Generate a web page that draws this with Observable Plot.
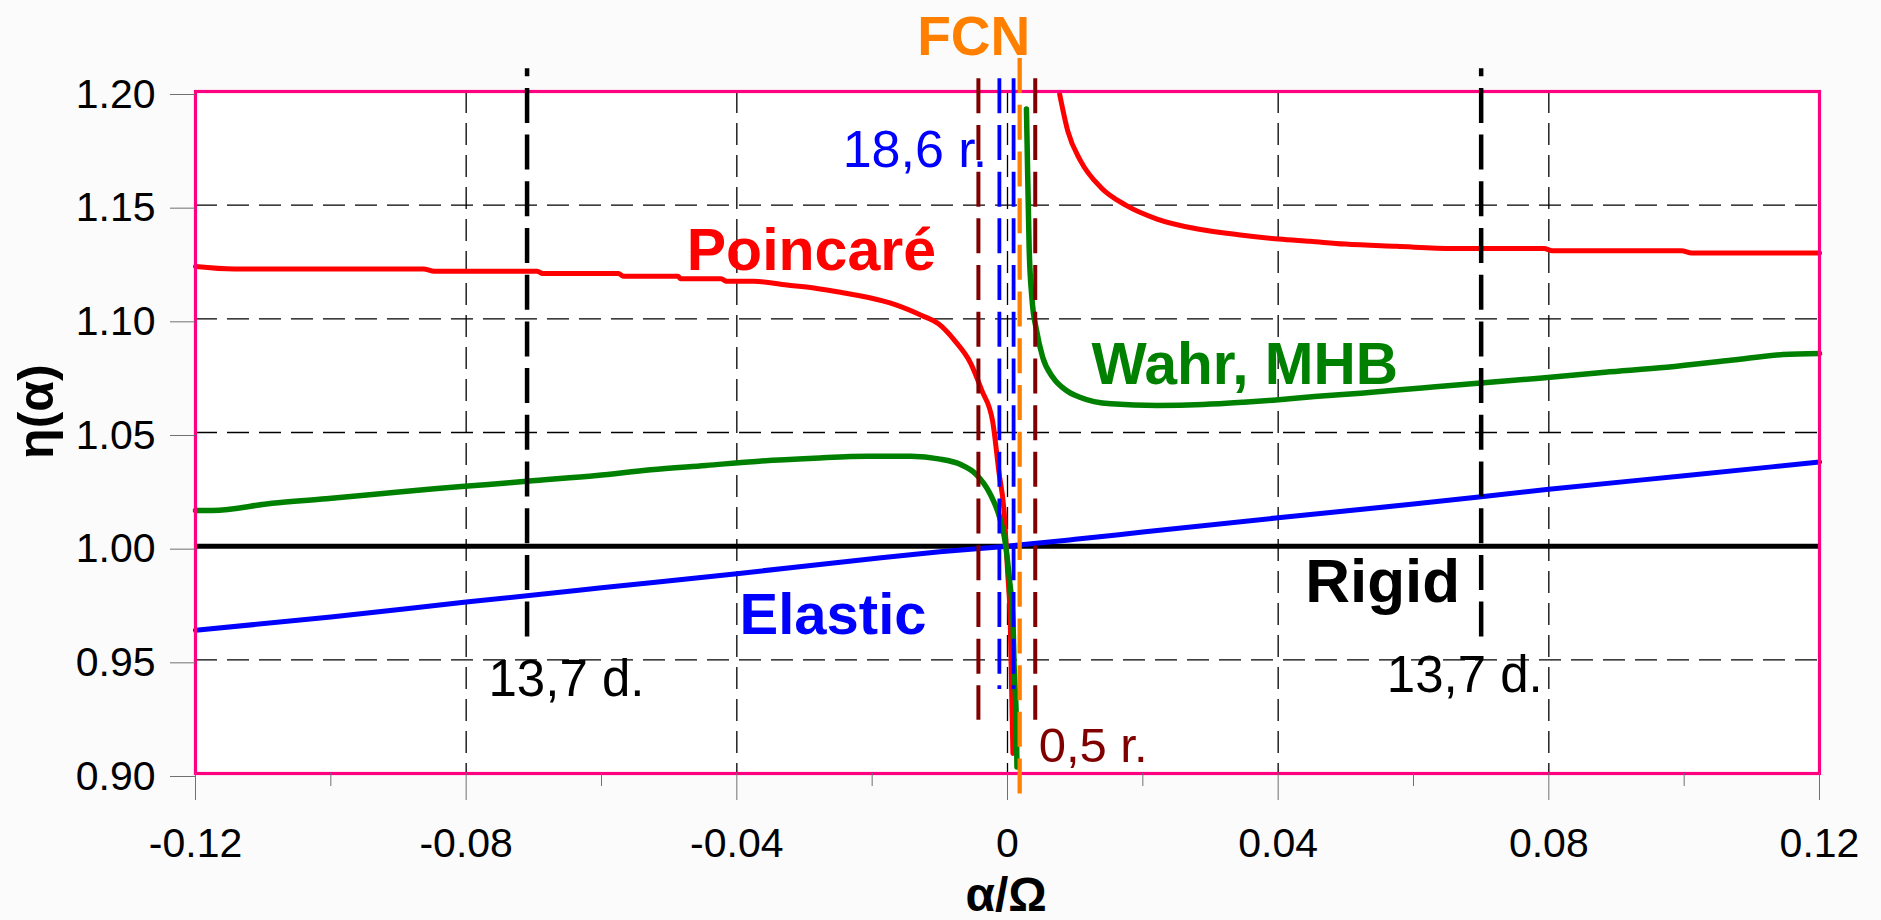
<!DOCTYPE html>
<html>
<head>
<meta charset="utf-8">
<script src="https://cdn.jsdelivr.net/npm/d3@7"></script>
<script src="https://cdn.jsdelivr.net/npm/@observablehq/plot@0.6"></script>
<style>
  html, body { margin: 0; padding: 0; background: #fbfbfb; overflow: hidden; }
  #chart svg { display: block; }
</style>
</head>
<body>
<div id="chart"></div>
<script>
// ---------- data ----------
const xMajorTicks = [-0.12, -0.08, -0.04, 0, 0.04, 0.08, 0.12];
const xMinorTicks = [-0.10, -0.06, -0.02, 0.02, 0.06, 0.10];
const xGrid = [-0.08, -0.04, 0, 0.04, 0.08];
const yTicks = [0.90, 0.95, 1.00, 1.05, 1.10, 1.15, 1.20];
const yGrid = [0.95, 1.05, 1.10, 1.15];
const rigidValue = [1.0];

// Poincaré (red), branch left of FCN
const poincareLeftX = [-0.12, -0.1143, -0.0863, -0.0847, -0.0695, -0.0687, -0.0575, -0.0567, -0.0487, -0.0483, -0.0423, -0.0415, -0.0375, -0.0326, -0.0286, -0.0247, -0.0207, -0.0166, -0.0126, -0.0102, -0.0078, -0.0054, -0.0038, -0.0022, -0.0013, -0.0004, 0.0000, 0.0004, 0.0006, 0.0008];
const poincareLeftY = [1.1230, 1.1219, 1.1219, 1.1209, 1.1209, 1.1199, 1.1199, 1.1187, 1.1187, 1.1176, 1.1176, 1.1165, 1.1165, 1.1149, 1.1136, 1.1117, 1.1095, 1.1063, 1.1014, 1.0978, 1.0904, 1.0802, 1.0685, 1.0550, 1.0333, 1.0113, 0.9893, 0.9674, 0.9381, 0.9088];
// Poincaré (red), branch right of FCN
const poincareRightX = [0.0077, 0.0089, 0.0108, 0.0138, 0.0176, 0.0221, 0.0281, 0.0341, 0.0401, 0.0447, 0.0499, 0.0575, 0.0658, 0.0793, 0.0805, 0.0996, 0.1011, 0.12];
const poincareRightY = [1.1989, 1.1827, 1.1695, 1.1578, 1.1498, 1.1439, 1.1395, 1.1370, 1.1351, 1.1341, 1.1329, 1.1319, 1.1309, 1.1309, 1.1300, 1.1300, 1.1290, 1.1290];

// Wahr, MHB (green)
const wahrLeftX = [-0.12, -0.1175, -0.1087, -0.1007, -0.0927, -0.0847, -0.0767, -0.0711, -0.0607, -0.0527, -0.0446, -0.0367, -0.0286, -0.0207, -0.0142, -0.0102, -0.0070, -0.0046, -0.0026, -0.0012, -0.0004, 0.0003, 0.0008, 0.0010, 0.0013, 0.0014];
const wahrLeftY = [1.0157, 1.0157, 1.0189, 1.0209, 1.0231, 1.0253, 1.0271, 1.0286, 1.0311, 1.0336, 1.0355, 1.0374, 1.0387, 1.0396, 1.0395, 1.0384, 1.0360, 1.0315, 1.0232, 1.0130, 1.0030, 0.9850, 0.9674, 0.9454, 0.9234, 0.9029];
const wahrRightX = [0.0028, 0.0030, 0.0032, 0.0036, 0.0043, 0.0052, 0.0067, 0.0087, 0.0107, 0.0153, 0.0221, 0.0289, 0.0349, 0.0401, 0.0454, 0.0522, 0.0612, 0.0695, 0.0786, 0.0883, 0.0974, 0.1072, 0.1146, 0.12];
const wahrRightY = [1.1923, 1.1608, 1.1314, 1.1095, 1.0948, 1.0831, 1.0743, 1.0685, 1.0655, 1.0626, 1.0619, 1.0623, 1.0633, 1.0644, 1.0658, 1.0673, 1.0696, 1.0717, 1.0739, 1.0765, 1.0787, 1.0819, 1.0843, 1.0848];

// Elastic (blue)
const elasticX = [-0.12, -0.10, -0.08, -0.06, -0.04, -0.02, -0.01, 0, 0.01, 0.02, 0.04, 0.06, 0.08, 0.10, 0.12];
const elasticY = [0.9630, 0.9688, 0.9754, 0.9817, 0.9879, 0.9945, 0.9975, 1.0000, 1.0030, 1.0062, 1.0125, 1.0185, 1.0250, 1.0310, 1.0370];

// marker frequencies
const period13dX = [-0.071, 0.070];     // 13,7 d.
const period05rX = [-0.0043, 0.0041];   // 0,5 r.
const period186rX = [-0.0012, 0.0009];  // 18,6 r.
const fcnX = [0.0018];                  // FCN

// ---------- build tables ----------
const toRows = (xs, ys) => xs.map((x, i) => ({x, y: ys[i]}));
const poincareLeft = toRows(poincareLeftX, poincareLeftY);
const poincareRight = toRows(poincareRightX, poincareRightY);
const wahrLeft = toRows(wahrLeftX, wahrLeftY);
const wahrRight = toRows(wahrRightX, wahrRightY);
const elastic = toRows(elasticX, elasticY);

const FONT = "'Liberation Sans', Arial, Helvetica, sans-serif";
const fmtX = d => d === 0 ? "0" : d.toFixed(2);
const DASH = "35,11.7";

const chart = Plot.plot({
  width: 1881,
  height: 920,
  marginLeft: 195,
  marginRight: 62,
  marginTop: 91,
  marginBottom: 147,
  x: {domain: [-0.12, 0.12], label: null},
  y: {domain: [0.9, 1.2], label: null},
  style: {fontFamily: FONT, background: "transparent", overflow: "visible", color: "black"},
  marks: [
    Plot.frame({fill: "white", stroke: null}),
    Plot.ruleY(yGrid, {stroke: "black", strokeWidth: 1.3, strokeDasharray: "22,10"}),
    Plot.ruleX(xGrid, {stroke: "black", strokeWidth: 1.3, strokeDasharray: "22,10"}),
    Plot.ruleY(rigidValue, {stroke: "black", strokeWidth: 5}),
    Plot.line(elastic, {x: "x", y: "y", stroke: "#0000FF", strokeWidth: 5, curve: "monotone-x"}),
    Plot.line(poincareLeft, {x: "x", y: "y", stroke: "#FF0000", strokeWidth: 5, curve: "monotone-x"}),
    Plot.line(poincareRight, {x: "x", y: "y", stroke: "#FF0000", strokeWidth: 5, curve: "monotone-x"}),
    Plot.line(wahrLeft, {x: "x", y: "y", stroke: "#008000", strokeWidth: 5.5, curve: "monotone-x"}),
    Plot.line(wahrRight, {x: "x", y: "y", stroke: "#008000", strokeWidth: 5.5, curve: "monotone-x"}),
    Plot.frame({stroke: "#FF0080", strokeWidth: 3.2}),
    Plot.ruleX(period13dX, {y1: 0.96, y2: 1.21, stroke: "black", strokeWidth: 4.5, strokeDasharray: DASH}),
    Plot.ruleX(period05rX, {y1: 1.2056, y2: 0.9234, stroke: "#800000", strokeWidth: 4, strokeDasharray: DASH}),
    Plot.ruleX(period186rX, {y1: 1.2056, y2: 0.937, stroke: "#0000FF", strokeWidth: 3.8, strokeDasharray: DASH}),
    Plot.ruleX(fcnX, {y1: 1.2145, y2: 0.8905, stroke: "#FF8000", strokeWidth: 4.3, strokeDasharray: DASH}),
    // curve labels
    Plot.text(["Poincaré"], {x: -0.0474, y: 1.1216, text: d => d, fill: "#FF0000", fontSize: 59, fontWeight: "bold", textAnchor: "start", lineAnchor: "bottom"}),
    Plot.text(["Wahr, MHB"], {x: 0.0124, y: 1.0714, text: d => d, fill: "#008000", fontSize: 58.5, fontWeight: "bold", textAnchor: "start", lineAnchor: "bottom"}),
    Plot.text(["Elastic"], {x: -0.0396, y: 0.9615, text: d => d, fill: "#0000FF", fontSize: 58, fontWeight: "bold", textAnchor: "start", lineAnchor: "bottom"}),
    Plot.text(["Rigid"], {x: 0.0669, y: 0.9754, text: d => d, fill: "black", fontSize: 62, fontWeight: "bold", textAnchor: "end", lineAnchor: "bottom"}),
    Plot.text(["FCN"], {x: -0.0050, y: 1.2161, text: d => d, fill: "#FF8000", fontSize: 55, fontWeight: "bold", textAnchor: "middle", lineAnchor: "bottom"}),
    Plot.text(["18,6 r."], {x: -0.0030, y: 1.1667, text: d => d, fill: "#0000FF", fontSize: 52, textAnchor: "end", lineAnchor: "bottom"}),
    Plot.text(["13,7 d."], {x: -0.0767, y: 0.9343, text: d => d, fill: "black", fontSize: 51, textAnchor: "start", lineAnchor: "bottom"}),
    Plot.text(["13,7 d."], {x: 0.0791, y: 0.9357, text: d => d, fill: "black", fontSize: 51, textAnchor: "end", lineAnchor: "bottom"}),
    Plot.text(["0,5 r."], {x: 0.0046, y: 0.9050, text: d => d, fill: "#800000", fontSize: 49, textAnchor: "start", lineAnchor: "bottom"}),
    // axes
    Plot.axisY({ticks: yTicks, tickSize: 25, tickPadding: 15, tickFormat: d3.format(".2f"), fontSize: 41, stroke: "#707070", fill: "black", label: null, dy: 3}),
    Plot.axisX({ticks: xMajorTicks, tickSize: 27, tickPadding: 27, tickFormat: fmtX, fontSize: 41, stroke: "#707070", fill: "black", label: null}),
    Plot.axisX({ticks: xMinorTicks, tickSize: 13, tickFormat: () => "", stroke: "#707070", label: null}),
    Plot.text(["α/Ω"], {x: -0.0002, y: 0.8395, text: d => d, fill: "black", fontSize: 48, fontWeight: "bold", textAnchor: "middle", lineAnchor: "bottom"}),
    Plot.text(["η(α)"], {x: -0.1411, y: 1.0592, text: d => d, fill: "black", fontSize: 50, fontWeight: "bold", rotate: -90, textAnchor: "middle", lineAnchor: "bottom"})
  ]
});
document.getElementById("chart").appendChild(chart);
</script>
</body>
</html>
